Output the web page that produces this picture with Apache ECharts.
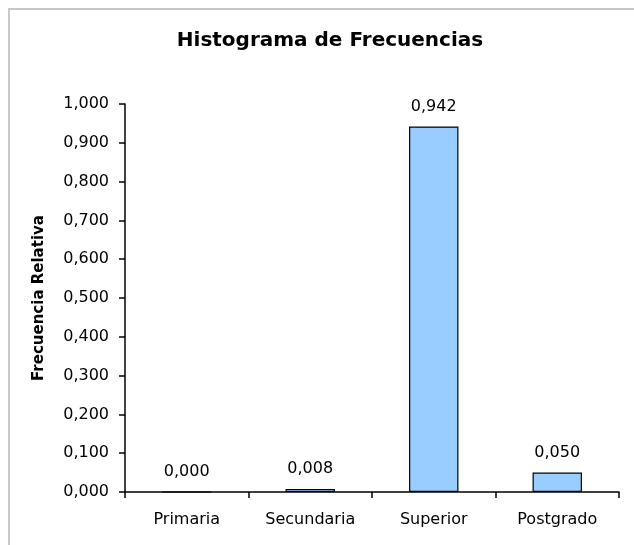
<!DOCTYPE html>
<html>
<head>
<meta charset="utf-8">
<script src="https://cdn.jsdelivr.net/npm/echarts@6/dist/echarts.min.js"></script>
<style>
  html, body { margin: 0; padding: 0; background: #fff; }
  #main { width: 634px; height: 545px; }
</style>
</head>
<body>
<div id="main"></div>
<script>
// datos del histograma
const categorias = ['Primaria', 'Secundaria', 'Superior', 'Postgrado']
const frecuenciaRelativa = [0.000, 0.008, 0.942, 0.050]
const tituloGrafico = 'Histograma de Frecuencias'
const tituloEjeY = 'Frecuencia Relativa'

// 0.1 -> "0,100"
const fmt = v => v.toFixed(3).replace('.', ',')

let chart = echarts.init(document.getElementById('main'))

let option = {
  animation: false,
  backgroundColor: '#fff',
  textStyle: { fontFamily: 'DejaVu Sans' },
  graphic: [
    {
      type: 'rect',
      shape: { x: 9, y: 9, width: 700, height: 600 },
      style: { fill: 'none', stroke: '#c8c8c8', lineWidth: 2 },
      silent: true
    }
  ],
  title: {
    text: tituloGrafico,
    left: 325,
    textAlign: 'center',
    top: 26,
    textStyle: { fontFamily: 'DejaVu Sans', fontWeight: 'bold', fontSize: 20, color: '#000' }
  },
  grid: { left: 125, right: 15, top: 104, bottom: 53 },
  xAxis: {
    type: 'category',
    data: categorias,
    axisLine: { lineStyle: { color: '#000', width: 1.5 } },
    axisTick: { show: true, length: 6, lineStyle: { color: '#000', width: 1.5 } },
    axisLabel: { color: '#000', fontSize: 16, margin: 20, interval: 0 }
  },
  yAxis: {
    type: 'value',
    min: 0,
    max: 1,
    interval: 0.1,
    name: tituloEjeY,
    nameLocation: 'middle',
    nameRotate: 90,
    nameGap: 78,
    nameTextStyle: { fontFamily: 'DejaVu Sans', fontWeight: 'bold', fontSize: 15, color: '#000' },
    splitLine: { show: false },
    axisLine: { show: true, lineStyle: { color: '#000', width: 1.5 } },
    axisTick: { show: true, length: 6, lineStyle: { color: '#000', width: 1.5 } },
    axisLabel: { color: '#000', fontSize: 16, margin: 16, formatter: fmt }
  },
  series: [
    {
      type: 'bar',
      data: frecuenciaRelativa,
      barCategoryGap: '60%',
      itemStyle: { color: '#99ccff', borderColor: '#000', borderWidth: 1.2 },
      label: {
        show: true,
        position: 'top',
        distance: 12,
        color: '#000',
        fontSize: 16,
        formatter: p => fmt(p.value)
      }
    }
  ]
}

chart.setOption(option)
</script>
</body>
</html>
